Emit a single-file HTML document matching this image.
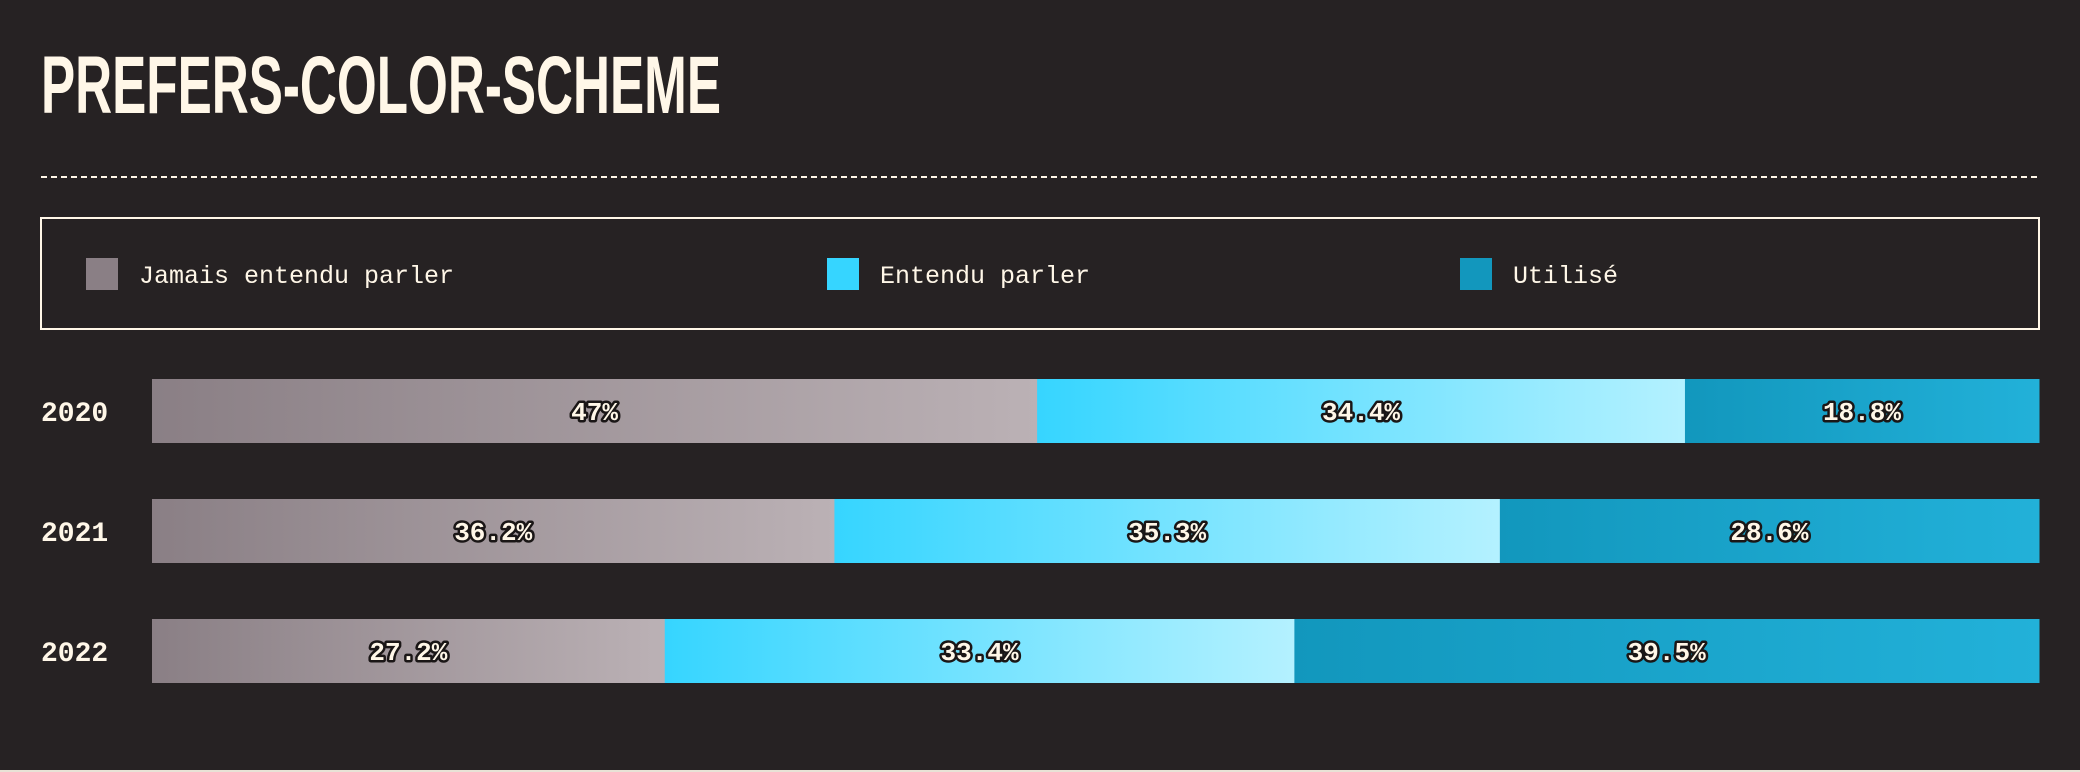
<!DOCTYPE html>
<html><head><meta charset="utf-8"><style>
html,body{margin:0;padding:0;background:#262223;}
svg{display:block}
.lbl{font-family:"Liberation Mono",monospace;font-weight:bold;font-size:26px;fill:#fff7e8;stroke:#1a1616;stroke-width:5px;paint-order:stroke;stroke-linejoin:round}
</style></head><body>
<svg id="chart" width="2080" height="772" viewBox="0 0 2080 772">
<defs>
<linearGradient id="g0" x1="0" x2="1"><stop offset="0" stop-color="#8a7f85"/><stop offset="1" stop-color="#bbb1b5"/></linearGradient>
<linearGradient id="g1" x1="0" x2="1"><stop offset="0" stop-color="#36d5ff"/><stop offset="1" stop-color="#b4f1ff"/></linearGradient>
<linearGradient id="g2" x1="0" x2="1"><stop offset="0" stop-color="#1297bd"/><stop offset="1" stop-color="#22b1d9"/></linearGradient>
</defs>
<rect width="2080" height="772" fill="#262223"/>
<rect x="0" y="770" width="2080" height="2" fill="#e8e2d6"/>
<text x="41" y="113" font-family="Liberation Sans, sans-serif" font-weight="bold" font-size="82" fill="#fff7e8" textLength="680" lengthAdjust="spacingAndGlyphs">PREFERS-COLOR-SCHEME</text>
<line x1="41" y1="177" x2="2039" y2="177" stroke="#fff7e8" stroke-width="2" stroke-dasharray="6,4"/>
<rect x="41" y="218" width="1998" height="111" fill="none" stroke="#fff7e8" stroke-width="2"/>
<g id="legend"></g>
<g id="bars"></g>
</svg>
<script>
const years = ["2020","2021","2022"];
const seriesNames = ["Jamais entendu parler","Entendu parler","Utilisé"];
const neverHeard = [47, 36.2, 27.2];
const heard = [34.4, 35.3, 33.4];
const used = [18.8, 28.6, 39.5];

const NS="http://www.w3.org/2000/svg";
const legend=document.getElementById('legend');
const bars=document.getElementById('bars');
const swX=[86,827,1460];
const fills=["url(#g0)","url(#g1)","url(#g2)"];
const swFill=["#8a7f85","#36d5ff","#1297bd"];
seriesNames.forEach((n,i)=>{
  const r=document.createElementNS(NS,'rect');
  r.setAttribute('x',swX[i]);r.setAttribute('y',258);r.setAttribute('width',32);r.setAttribute('height',32);r.setAttribute('fill',swFill[i]);
  
  
  legend.appendChild(r);
  const t=document.createElementNS(NS,'text');
  t.setAttribute('x',swX[i]+53);t.setAttribute('y',283);
  t.setAttribute('font-family','Liberation Mono, monospace');t.setAttribute('font-size','25');t.setAttribute('fill','#fff7e8');
  t.textContent=n;
  
  
  legend.appendChild(t);
});
const x0=152, W=1887, rowY=[379,499,619], H=64;
const series=[neverHeard,heard,used];
years.forEach((y,i)=>{
  const yl=document.createElementNS(NS,'text');
  yl.setAttribute('x',41);yl.setAttribute('y',rowY[i]+H/2+10);
  yl.setAttribute('font-family','Liberation Mono, monospace');yl.setAttribute('font-weight','bold');yl.setAttribute('font-size','28');yl.setAttribute('fill','#fff7e8');
  yl.textContent=y;
  
  
  bars.appendChild(yl);
  const total=series.reduce((s,a)=>s+a[i],0);
  let cx=x0;
  series.forEach((s,k)=>{
    const w=W*s[i]/total;
    const r=document.createElementNS(NS,'rect');
    r.setAttribute('x',cx);r.setAttribute('y',rowY[i]);r.setAttribute('width',w+0.5);r.setAttribute('height',H);r.setAttribute('fill',fills[k]);
    
    
    bars.appendChild(r);
    const t=document.createElementNS(NS,'text');
    t.setAttribute('x',cx+w/2);t.setAttribute('y',rowY[i]+H/2+9);t.setAttribute('text-anchor','middle');t.setAttribute('class','lbl');
    t.textContent=s[i]+'%';
    
    
    bars.appendChild(t);
    cx+=w;
  });
});
</script>
</body></html>
